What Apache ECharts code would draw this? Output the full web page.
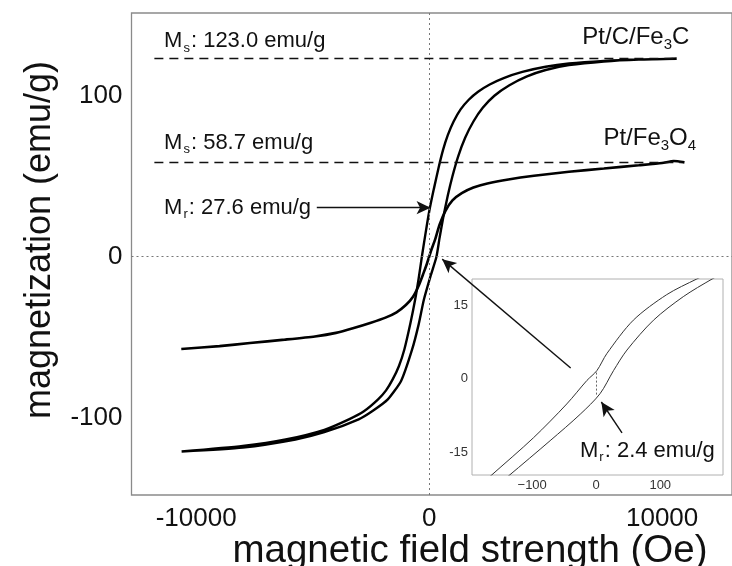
<!DOCTYPE html>
<html><head><meta charset="utf-8">
<script src="https://cdn.jsdelivr.net/npm/echarts@6/dist/echarts.min.js"></script>
<style>html,body{margin:0;padding:0;background:#fff}#c{width:732px;height:566px}</style>
</head><body><div id="c"></div>
<script>
const FONT = '"Liberation Sans", Arial, Helvetica, sans-serif';

// Tick labels
const mainXTicks = [-10000, 0, 10000];
const mainYTicks = [-100, 0, 100];
const insetXTicks = [-100, 0, 100];
const insetYTicks = [-15, 0, 15];

// Annotation values
const msValues = [123.0, 58.7];
const mrMain = 27.6;
const mrInset = 2.4;

// Pt/C/Fe3C loop - descending branch (field from + to -)
const fe3cDescH = [10626, 9000, 7500, 6000, 5000, 4000, 3200, 2600, 2100, 1700, 1350, 1050, 800, 600, 400, 200, 0, -150, -313, -450, -605, -800, -1065, -1300, -1566, -1850, -2192, -2800, -3445, -4500, -6159, -8000, -10626];
const fe3cDescM = [123, 122.5, 121.6, 120, 118, 114.8, 111, 107, 102.5, 97.5, 91.5, 84, 75.5, 66.5, 55, 42, 28, 15, 0, -13.5, -26.9, -41, -57.6, -68, -76.2, -83, -88.6, -96, -101, -107.5, -113.5, -117.5, -121];
// Pt/C/Fe3C loop - ascending branch (field from - to +)
const fe3cAscH = [-10626, -8000, -5741, -4500, -3027, -2400, -1775, -1200, -731, -450, -230, 40, 313, 450, 600, 800, 1000, 1250, 1550, 1900, 2300, 2800, 3445, 4200, 5000, 6000, 7500, 9000, 10626];
const fe3cAscM = [-121, -118.5, -113.5, -109, -101, -95.5, -88.6, -77, -57.6, -42, -26.9, -13, 0, 12, 24, 38, 50, 62.5, 74, 84, 92.5, 100, 106.5, 112, 116, 119, 121.3, 122.5, 123];

// Pt/Fe3O4 curve
const fe3o4H = [-10640, -9000, -7690, -6200, -4906, -4000, -3236, -2500, -1900, -1400, -1000, -700, -450, -250, -100, 0, 100, 250, 450, 700, 1000, 1400, 1900, 2500, 3400, 4500, 6000, 7500, 9000, 10000, 10500, 10960];
const fe3o4M = [-57.3, -55.5, -53.6, -51.5, -49.5, -47.3, -44.3, -41, -38, -34.5, -30, -25, -18, -10.5, -4.5, 0, 4.5, 10.5, 20, 28.5, 35, 39.5, 43, 45.5, 48, 50.3, 52.8, 54.8, 56.8, 58.2, 59.5, 58.6];

// Inset (low-field zoom)
const insetUpperH = [-200, -165, -98, -46, -14.5, 1, 16.7, 58, 110, 157, 190];
const insetUpperM = [-24, -19.9, -12.1, -5.2, -0.4, 1.6, 5.1, 11.9, 17.1, 20.3, 22.3];
const insetLowerH = [-170, -137, -72, -25, 6, 27, 48, 89.5, 136, 181, 210];
const insetLowerM = [-23.5, -19.9, -12.7, -7.3, -3.1, 1.6, 5.8, 11.9, 16.7, 20.3, 22.3];

const zip = (a, b) => a.map((v, i) => [v, b[i]]);
const fe3cLoop = zip(fe3cAscH, fe3cAscM).concat(zip(fe3cDescH, fe3cDescM));

const rich = {
  a: {fontSize: 22, fontFamily: FONT, color: '#111'},
  s: {fontSize: 13, fontFamily: FONT, color: '#111', padding: [14, 1, 0, 1]},
  b: {fontSize: 24, fontFamily: FONT, color: '#111'},
  bs: {fontSize: 15, fontFamily: FONT, color: '#111', padding: [14, 0, 0, 0]}
};
function textPoint(coord, fmt, pos) {
  return {coord: coord, symbol: 'circle', symbolSize: 0,
    label: {show: true, position: pos, distance: 0, formatter: fmt, rich: rich, color: '#111'}};
}
const solid = {type: 'solid', color: '#111', width: 1.4};
function arrow(from, to, size) {
  return [{coord: from, symbol: 'none', lineStyle: solid}, {coord: to, symbol: 'arrow', symbolSize: size}];
}

const chart = echarts.init(document.getElementById('c'), null, {renderer: 'canvas'});
chart.setOption({
  animation: false,
  backgroundColor: '#fff',
  grid: [
    {left: 131.5, top: 13, width: 617.4, height: 482, show: true, borderColor: '#8a8a8a', borderWidth: 1.3, backgroundColor: 'transparent'},
    {left: 472, top: 279, width: 251, height: 196, show: true, borderColor: '#b0b0b0', borderWidth: 1, backgroundColor: '#fff'}
  ],
  xAxis: [
    {type: 'value', gridIndex: 0, min: -12777, max: 13000,
      axisLine: {show: false}, axisTick: {show: false}, splitLine: {show: false},
      axisLabel: {customValues: mainXTicks, fontSize: 26, fontFamily: FONT, color: '#111', margin: 11, formatter: v => String(v)}},
    {type: 'value', gridIndex: 1, min: -194, max: 198,
      axisLine: {show: false}, axisTick: {show: false}, splitLine: {show: false},
      axisLabel: {customValues: insetXTicks, fontSize: 13, fontFamily: FONT, color: '#333', margin: 4,
        formatter: v => String(v).replace('-', '\u2212')}}
  ],
  yAxis: [
    {type: 'value', gridIndex: 0, min: -148, max: 151.4,
      axisLine: {show: false}, axisTick: {show: false}, splitLine: {show: false},
      axisLabel: {customValues: mainYTicks, fontSize: 26, fontFamily: FONT, color: '#111', margin: 9, formatter: v => String(v)}},
    {type: 'value', gridIndex: 1, min: -19.7, max: 20.3,
      axisLine: {show: false}, axisTick: {show: false}, splitLine: {show: false},
      axisLabel: {customValues: insetYTicks, fontSize: 13, fontFamily: FONT, color: '#333', margin: 4, formatter: v => String(v)}}
  ],
  graphic: [
    {type: 'text', x: 470, y: 551, style: {text: 'magnetic field strength (Oe)', font: '38.5px ' + FONT, fill: '#111', textAlign: 'center', textVerticalAlign: 'middle'}},
    {type: 'text', x: 40, y: 240, rotation: Math.PI / 2, style: {text: 'magnetization (emu/g)', font: '36px ' + FONT, fill: '#111', textAlign: 'center', textVerticalAlign: 'middle'}}
  ],
  series: [
    {type: 'line', name: 'Pt/C/Fe3C', xAxisIndex: 0, yAxisIndex: 0, data: fe3cLoop, showSymbol: false, smooth: 0.2,
      lineStyle: {color: '#000', width: 2.4}, z: 3,
      markLine: {silent: true, symbol: ['none', 'none'], label: {show: false},
        data: [
          {xAxis: 0, lineStyle: {type: [2, 3], color: '#777', width: 1}},
          {yAxis: 0, lineStyle: {type: [2, 3], color: '#777', width: 1}},
          [{coord: [-11795, msValues[0]]}, {coord: [10543, msValues[0]]}],
          [{coord: [-11795, msValues[1]]}, {coord: [10835, msValues[1]]}],
          arrow([-4823, 30.5], [60, 30.5], [10, 14]),
          arrow([6075, -69.1], [560, -1.5], [10, 14])
        ],
        lineStyle: {type: [9, 6], color: '#111', width: 1.4}
      },
      markPoint: {silent: true, data: [
        textPoint([-11378, 133.8], '{a|M}{s|s}{a|: ' + msValues[0].toFixed(1) + ' emu/g}', 'right'),
        textPoint([-11378, 70.8], '{a|M}{s|s}{a|: ' + msValues[1].toFixed(1) + ' emu/g}', 'right'),
        textPoint([-11378, 30.5], '{a|M}{s|r}{a|: ' + mrMain.toFixed(1) + ' emu/g}', 'right'),
        textPoint([11170, 136], '{b|Pt/C/Fe}{bs|3}{b|C}', 'left'),
        textPoint([11460, 73.5], '{b|Pt/Fe}{bs|3}{b|O}{bs|4}', 'left')
      ]}
    },
    {type: 'line', name: 'Pt/Fe3O4', xAxisIndex: 0, yAxisIndex: 0, data: zip(fe3o4H, fe3o4M), showSymbol: false, smooth: 0.2,
      lineStyle: {color: '#000', width: 2.6}, z: 3},
    {type: 'line', name: 'inset upper', xAxisIndex: 1, yAxisIndex: 1, data: zip(insetUpperH, insetUpperM), showSymbol: false, smooth: 0.3,
      lineStyle: {color: '#333', width: 1}, z: 4,
      markLine: {silent: true, symbol: ['none', 'none'], label: {show: false},
        data: [
          [{coord: [0, 1.2], lineStyle: {type: [2, 2], color: '#666', width: 1}}, {coord: [0, -3.4]}],
          arrow([40.3, -11.1], [8, -4.8], [10, 14])
        ],
        lineStyle: {type: 'solid', color: '#111', width: 1.4}
      },
      markPoint: {silent: true, data: [
        textPoint([-25.3, -14.7], '{a|M}{s|r}{a|: ' + mrInset.toFixed(1) + ' emu/g}', 'right')
      ]}
    },
    {type: 'line', name: 'inset lower', xAxisIndex: 1, yAxisIndex: 1, data: zip(insetLowerH, insetLowerM), showSymbol: false, smooth: 0.3,
      lineStyle: {color: '#333', width: 1}, z: 4}
  ]
});
</script>
</body></html>
